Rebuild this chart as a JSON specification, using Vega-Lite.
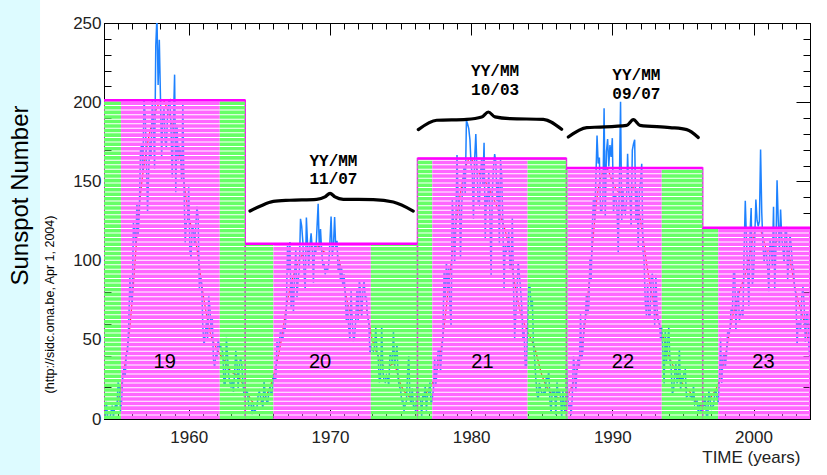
{
"$schema": "https://vega.github.io/schema/vega-lite/v6.json",
"width": 706, "height": 396,
"autosize": "none",
"padding": {"left": 104, "top": 23, "right": 17, "bottom": 56},
"background": "white",
"config": {
  "view": {"stroke": "black", "strokeWidth": 1},
  "axis": {"domainColor": "black", "domainWidth": 1, "tickColor": "black", "tickWidth": 1, "grid": false,
           "labelFont": "Liberation Sans", "labelFontSize": 17, "labelColor": "#222",
           "titleFont": "Liberation Sans", "titleFontWeight": "normal", "titleColor": "black"}
},
"datasets": {
"ssn": [
{"t":1954,"s":0.2},{"t":1954.083,"s":0.5},{"t":1954.167,"s":10.9},{"t":1954.25,"s":1.8},{"t":1954.333,"s":0.8},{"t":1954.417,"s":0.2},{"t":1954.5,"s":4.8},{"t":1954.583,"s":8.4},{"t":1954.667,"s":1.5},{"t":1954.75,"s":7.0},{"t":1954.833,"s":9.2},{"t":1954.917,"s":7.6},
{"t":1955,"s":23.1},{"t":1955.083,"s":20.8},{"t":1955.167,"s":4.9},{"t":1955.25,"s":11.3},{"t":1955.333,"s":28.9},{"t":1955.417,"s":31.7},{"t":1955.5,"s":26.7},{"t":1955.583,"s":40.7},{"t":1955.667,"s":42.7},{"t":1955.75,"s":58.5},{"t":1955.833,"s":89.2},{"t":1955.917,"s":76.9},
{"t":1956,"s":73.6},{"t":1956.083,"s":124.0},{"t":1956.167,"s":118.4},{"t":1956.25,"s":110.7},{"t":1956.333,"s":136.6},{"t":1956.417,"s":116.6},{"t":1956.5,"s":129.1},{"t":1956.583,"s":169.6},{"t":1956.667,"s":173.2},{"t":1956.75,"s":155.3},{"t":1956.833,"s":201.3},{"t":1956.917,"s":192.1},
{"t":1957,"s":165.0},{"t":1957.083,"s":130.2},{"t":1957.167,"s":157.4},{"t":1957.25,"s":175.2},{"t":1957.333,"s":164.6},{"t":1957.417,"s":200.7},{"t":1957.5,"s":187.2},{"t":1957.583,"s":158.0},{"t":1957.667,"s":235.8},{"t":1957.75,"s":253.8},{"t":1957.833,"s":210.9},{"t":1957.917,"s":239.4},
{"t":1958,"s":202.5},{"t":1958.083,"s":164.9},{"t":1958.167,"s":190.7},{"t":1958.25,"s":196.0},{"t":1958.333,"s":175.3},{"t":1958.417,"s":171.5},{"t":1958.5,"s":191.4},{"t":1958.583,"s":200.2},{"t":1958.667,"s":201.2},{"t":1958.75,"s":181.5},{"t":1958.833,"s":152.3},{"t":1958.917,"s":187.6},
{"t":1959,"s":217.4},{"t":1959.083,"s":143.1},{"t":1959.167,"s":185.7},{"t":1959.25,"s":163.3},{"t":1959.333,"s":172.0},{"t":1959.417,"s":168.7},{"t":1959.5,"s":149.6},{"t":1959.583,"s":199.6},{"t":1959.667,"s":145.2},{"t":1959.75,"s":111.4},{"t":1959.833,"s":124.0},{"t":1959.917,"s":125.0},
{"t":1960,"s":146.3},{"t":1960.083,"s":106.0},{"t":1960.167,"s":102.2},{"t":1960.25,"s":122.0},{"t":1960.333,"s":119.6},{"t":1960.417,"s":110.2},{"t":1960.5,"s":121.7},{"t":1960.583,"s":134.1},{"t":1960.667,"s":127.2},{"t":1960.75,"s":82.8},{"t":1960.833,"s":89.6},{"t":1960.917,"s":85.6},
{"t":1961,"s":57.9},{"t":1961.083,"s":46.1},{"t":1961.167,"s":53.0},{"t":1961.25,"s":61.4},{"t":1961.333,"s":51.0},{"t":1961.417,"s":77.4},{"t":1961.5,"s":70.2},{"t":1961.583,"s":55.8},{"t":1961.667,"s":63.6},{"t":1961.75,"s":37.7},{"t":1961.833,"s":32.6},{"t":1961.917,"s":39.9},
{"t":1962,"s":38.7},{"t":1962.083,"s":50.3},{"t":1962.167,"s":45.6},{"t":1962.25,"s":46.4},{"t":1962.333,"s":43.7},{"t":1962.417,"s":42.0},{"t":1962.5,"s":21.8},{"t":1962.583,"s":21.8},{"t":1962.667,"s":51.3},{"t":1962.75,"s":39.5},{"t":1962.833,"s":26.9},{"t":1962.917,"s":23.2},
{"t":1963,"s":19.8},{"t":1963.083,"s":24.4},{"t":1963.167,"s":17.1},{"t":1963.25,"s":29.3},{"t":1963.333,"s":43.0},{"t":1963.417,"s":35.9},{"t":1963.5,"s":19.6},{"t":1963.583,"s":33.2},{"t":1963.667,"s":38.8},{"t":1963.75,"s":35.3},{"t":1963.833,"s":23.4},{"t":1963.917,"s":14.9},
{"t":1964,"s":15.3},{"t":1964.083,"s":17.7},{"t":1964.167,"s":16.5},{"t":1964.25,"s":8.6},{"t":1964.333,"s":9.5},{"t":1964.417,"s":9.1},{"t":1964.5,"s":3.1},{"t":1964.583,"s":9.3},{"t":1964.667,"s":4.7},{"t":1964.75,"s":6.1},{"t":1964.833,"s":7.4},{"t":1964.917,"s":15.1},
{"t":1965,"s":17.5},{"t":1965.083,"s":14.2},{"t":1965.167,"s":11.7},{"t":1965.25,"s":6.8},{"t":1965.333,"s":24.1},{"t":1965.417,"s":15.9},{"t":1965.5,"s":11.9},{"t":1965.583,"s":8.9},{"t":1965.667,"s":16.8},{"t":1965.75,"s":20.1},{"t":1965.833,"s":15.8},{"t":1965.917,"s":17.0},
{"t":1966,"s":28.2},{"t":1966.083,"s":24.4},{"t":1966.167,"s":25.3},{"t":1966.25,"s":48.7},{"t":1966.333,"s":45.3},{"t":1966.417,"s":47.7},{"t":1966.5,"s":56.7},{"t":1966.583,"s":51.2},{"t":1966.667,"s":50.2},{"t":1966.75,"s":57.2},{"t":1966.833,"s":57.2},{"t":1966.917,"s":70.4},
{"t":1967,"s":110.9},{"t":1967.083,"s":93.6},{"t":1967.167,"s":111.8},{"t":1967.25,"s":69.5},{"t":1967.333,"s":86.5},{"t":1967.417,"s":67.3},{"t":1967.5,"s":91.5},{"t":1967.583,"s":107.2},{"t":1967.667,"s":76.8},{"t":1967.75,"s":88.2},{"t":1967.833,"s":94.3},{"t":1967.917,"s":126.4},
{"t":1968,"s":121.8},{"t":1968.083,"s":111.9},{"t":1968.167,"s":92.2},{"t":1968.25,"s":81.2},{"t":1968.333,"s":127.2},{"t":1968.417,"s":110.3},{"t":1968.5,"s":96.1},{"t":1968.583,"s":109.3},{"t":1968.667,"s":117.2},{"t":1968.75,"s":107.7},{"t":1968.833,"s":86.0},{"t":1968.917,"s":109.8},
{"t":1969,"s":104.4},{"t":1969.083,"s":120.5},{"t":1969.167,"s":135.8},{"t":1969.25,"s":106.8},{"t":1969.333,"s":120.0},{"t":1969.417,"s":106.0},{"t":1969.5,"s":96.8},{"t":1969.583,"s":98.0},{"t":1969.667,"s":91.3},{"t":1969.75,"s":95.7},{"t":1969.833,"s":93.5},{"t":1969.917,"s":97.9},
{"t":1970,"s":111.5},{"t":1970.083,"s":127.8},{"t":1970.167,"s":102.9},{"t":1970.25,"s":109.5},{"t":1970.333,"s":127.5},{"t":1970.417,"s":106.8},{"t":1970.5,"s":112.5},{"t":1970.583,"s":93.0},{"t":1970.667,"s":99.5},{"t":1970.75,"s":86.6},{"t":1970.833,"s":95.2},{"t":1970.917,"s":83.5},
{"t":1971,"s":91.3},{"t":1971.083,"s":79.0},{"t":1971.167,"s":60.7},{"t":1971.25,"s":71.8},{"t":1971.333,"s":57.5},{"t":1971.417,"s":49.8},{"t":1971.5,"s":81.0},{"t":1971.583,"s":61.4},{"t":1971.667,"s":50.2},{"t":1971.75,"s":51.7},{"t":1971.833,"s":63.2},{"t":1971.917,"s":82.2},
{"t":1972,"s":61.5},{"t":1972.083,"s":88.4},{"t":1972.167,"s":80.1},{"t":1972.25,"s":63.2},{"t":1972.333,"s":80.5},{"t":1972.417,"s":88.0},{"t":1972.5,"s":76.5},{"t":1972.583,"s":76.8},{"t":1972.667,"s":64.0},{"t":1972.75,"s":61.3},{"t":1972.833,"s":41.6},{"t":1972.917,"s":45.3},
{"t":1973,"s":43.4},{"t":1973.083,"s":42.9},{"t":1973.167,"s":46.0},{"t":1973.25,"s":57.7},{"t":1973.333,"s":42.4},{"t":1973.417,"s":39.5},{"t":1973.5,"s":23.1},{"t":1973.583,"s":25.6},{"t":1973.667,"s":59.3},{"t":1973.75,"s":30.7},{"t":1973.833,"s":23.9},{"t":1973.917,"s":23.3},
{"t":1974,"s":27.6},{"t":1974.083,"s":26.0},{"t":1974.167,"s":21.3},{"t":1974.25,"s":40.3},{"t":1974.333,"s":39.5},{"t":1974.417,"s":36.0},{"t":1974.5,"s":55.8},{"t":1974.583,"s":33.6},{"t":1974.667,"s":40.2},{"t":1974.75,"s":47.1},{"t":1974.833,"s":25.0},{"t":1974.917,"s":20.5},
{"t":1975,"s":18.9},{"t":1975.083,"s":11.5},{"t":1975.167,"s":11.5},{"t":1975.25,"s":5.1},{"t":1975.333,"s":9.0},{"t":1975.417,"s":11.4},{"t":1975.5,"s":28.2},{"t":1975.583,"s":39.7},{"t":1975.667,"s":13.9},{"t":1975.75,"s":9.1},{"t":1975.833,"s":19.4},{"t":1975.917,"s":7.8},
{"t":1976,"s":8.1},{"t":1976.083,"s":4.3},{"t":1976.167,"s":21.9},{"t":1976.25,"s":18.8},{"t":1976.333,"s":12.4},{"t":1976.417,"s":12.2},{"t":1976.5,"s":1.9},{"t":1976.583,"s":16.4},{"t":1976.667,"s":13.5},{"t":1976.75,"s":20.6},{"t":1976.833,"s":5.2},{"t":1976.917,"s":15.3},
{"t":1977,"s":16.4},{"t":1977.083,"s":23.1},{"t":1977.167,"s":8.7},{"t":1977.25,"s":12.9},{"t":1977.333,"s":18.6},{"t":1977.417,"s":38.5},{"t":1977.5,"s":21.4},{"t":1977.583,"s":30.1},{"t":1977.667,"s":44.0},{"t":1977.75,"s":43.8},{"t":1977.833,"s":29.1},{"t":1977.917,"s":43.2},
{"t":1978,"s":51.9},{"t":1978.083,"s":93.6},{"t":1978.167,"s":76.5},{"t":1978.25,"s":99.7},{"t":1978.333,"s":82.7},{"t":1978.417,"s":95.1},{"t":1978.5,"s":70.4},{"t":1978.583,"s":58.1},{"t":1978.667,"s":138.2},{"t":1978.75,"s":125.1},{"t":1978.833,"s":97.9},{"t":1978.917,"s":122.7},
{"t":1979,"s":166.6},{"t":1979.083,"s":137.5},{"t":1979.167,"s":138.0},{"t":1979.25,"s":101.5},{"t":1979.333,"s":134.4},{"t":1979.417,"s":149.5},{"t":1979.5,"s":159.4},{"t":1979.583,"s":142.2},{"t":1979.667,"s":188.4},{"t":1979.75,"s":186.2},{"t":1979.833,"s":183.3},{"t":1979.917,"s":176.3},
{"t":1980,"s":159.6},{"t":1980.083,"s":155.0},{"t":1980.167,"s":126.2},{"t":1980.25,"s":164.1},{"t":1980.333,"s":179.9},{"t":1980.417,"s":157.3},{"t":1980.5,"s":136.3},{"t":1980.583,"s":135.4},{"t":1980.667,"s":155.0},{"t":1980.75,"s":164.7},{"t":1980.833,"s":147.9},{"t":1980.917,"s":174.4},
{"t":1981,"s":114.0},{"t":1981.083,"s":141.3},{"t":1981.167,"s":135.5},{"t":1981.25,"s":156.4},{"t":1981.333,"s":127.5},{"t":1981.417,"s":90.0},{"t":1981.5,"s":143.8},{"t":1981.583,"s":158.7},{"t":1981.667,"s":167.3},{"t":1981.75,"s":162.4},{"t":1981.833,"s":137.5},{"t":1981.917,"s":150.1},
{"t":1982,"s":111.2},{"t":1982.083,"s":163.6},{"t":1982.167,"s":153.8},{"t":1982.25,"s":122.0},{"t":1982.333,"s":82.2},{"t":1982.417,"s":110.4},{"t":1982.5,"s":106.1},{"t":1982.583,"s":107.6},{"t":1982.667,"s":118.8},{"t":1982.75,"s":94.7},{"t":1982.833,"s":98.1},{"t":1982.917,"s":127.0},
{"t":1983,"s":84.3},{"t":1983.083,"s":51.0},{"t":1983.167,"s":66.5},{"t":1983.25,"s":80.7},{"t":1983.333,"s":99.2},{"t":1983.417,"s":91.1},{"t":1983.5,"s":82.2},{"t":1983.583,"s":71.8},{"t":1983.667,"s":50.3},{"t":1983.75,"s":55.8},{"t":1983.833,"s":33.3},{"t":1983.917,"s":33.4},
{"t":1984,"s":57.0},{"t":1984.083,"s":85.4},{"t":1984.167,"s":83.5},{"t":1984.25,"s":69.7},{"t":1984.333,"s":76.4},{"t":1984.417,"s":46.1},{"t":1984.5,"s":37.4},{"t":1984.583,"s":25.5},{"t":1984.667,"s":15.7},{"t":1984.75,"s":12.0},{"t":1984.833,"s":22.8},{"t":1984.917,"s":18.7},
{"t":1985,"s":16.5},{"t":1985.083,"s":15.9},{"t":1985.167,"s":17.2},{"t":1985.25,"s":16.2},{"t":1985.333,"s":27.5},{"t":1985.417,"s":24.2},{"t":1985.5,"s":30.7},{"t":1985.583,"s":11.1},{"t":1985.667,"s":3.9},{"t":1985.75,"s":18.6},{"t":1985.833,"s":16.2},{"t":1985.917,"s":17.3},
{"t":1986,"s":2.5},{"t":1986.083,"s":23.2},{"t":1986.167,"s":15.1},{"t":1986.25,"s":18.5},{"t":1986.333,"s":13.7},{"t":1986.417,"s":1.1},{"t":1986.5,"s":18.1},{"t":1986.583,"s":7.4},{"t":1986.667,"s":3.8},{"t":1986.75,"s":35.4},{"t":1986.833,"s":15.2},{"t":1986.917,"s":6.8},
{"t":1987,"s":10.4},{"t":1987.083,"s":2.4},{"t":1987.167,"s":14.7},{"t":1987.25,"s":39.6},{"t":1987.333,"s":33.0},{"t":1987.417,"s":17.4},{"t":1987.5,"s":33.9},{"t":1987.583,"s":38.7},{"t":1987.667,"s":33.5},{"t":1987.75,"s":66.1},{"t":1987.833,"s":37.4},{"t":1987.917,"s":43.5},
{"t":1988,"s":61.0},{"t":1988.083,"s":62.7},{"t":1988.167,"s":78.9},{"t":1988.25,"s":66.1},{"t":1988.333,"s":71.0},{"t":1988.417,"s":101.9},{"t":1988.5,"s":86.6},{"t":1988.583,"s":121.5},{"t":1988.667,"s":139.9},{"t":1988.75,"s":125.8},{"t":1988.833,"s":151.2},{"t":1988.917,"s":179.0},
{"t":1989,"s":161.3},{"t":1989.083,"s":165.1},{"t":1989.167,"s":131.4},{"t":1989.25,"s":130.6},{"t":1989.333,"s":138.5},{"t":1989.417,"s":196.2},{"t":1989.5,"s":126.9},{"t":1989.583,"s":168.9},{"t":1989.667,"s":176.7},{"t":1989.75,"s":159.4},{"t":1989.833,"s":173.0},{"t":1989.917,"s":165.5},
{"t":1990,"s":177.3},{"t":1990.083,"s":130.5},{"t":1990.167,"s":140.3},{"t":1990.25,"s":140.3},{"t":1990.333,"s":132.2},{"t":1990.417,"s":105.4},{"t":1990.5,"s":149.4},{"t":1990.583,"s":200.3},{"t":1990.667,"s":125.2},{"t":1990.75,"s":145.5},{"t":1990.833,"s":131.4},{"t":1990.917,"s":129.7},
{"t":1991,"s":136.9},{"t":1991.083,"s":167.5},{"t":1991.167,"s":141.9},{"t":1991.25,"s":140.0},{"t":1991.333,"s":121.3},{"t":1991.417,"s":169.7},{"t":1991.5,"s":173.7},{"t":1991.583,"s":176.3},{"t":1991.667,"s":125.3},{"t":1991.75,"s":144.1},{"t":1991.833,"s":108.2},{"t":1991.917,"s":144.4},
{"t":1992,"s":150.0},{"t":1992.083,"s":161.1},{"t":1992.167,"s":106.7},{"t":1992.25,"s":99.8},{"t":1992.333,"s":73.8},{"t":1992.417,"s":65.2},{"t":1992.5,"s":85.7},{"t":1992.583,"s":64.5},{"t":1992.667,"s":63.9},{"t":1992.75,"s":88.7},{"t":1992.833,"s":91.8},{"t":1992.917,"s":82.6},
{"t":1993,"s":59.3},{"t":1993.083,"s":91.0},{"t":1993.167,"s":69.8},{"t":1993.25,"s":62.2},{"t":1993.333,"s":61.3},{"t":1993.417,"s":49.8},{"t":1993.5,"s":57.9},{"t":1993.583,"s":42.2},{"t":1993.667,"s":22.4},{"t":1993.75,"s":56.4},{"t":1993.833,"s":35.6},{"t":1993.917,"s":48.9},
{"t":1994,"s":57.8},{"t":1994.083,"s":35.5},{"t":1994.167,"s":31.7},{"t":1994.25,"s":16.1},{"t":1994.333,"s":17.8},{"t":1994.417,"s":28.0},{"t":1994.5,"s":35.1},{"t":1994.583,"s":22.5},{"t":1994.667,"s":25.7},{"t":1994.75,"s":44.0},{"t":1994.833,"s":18.0},{"t":1994.917,"s":26.2},
{"t":1995,"s":24.2},{"t":1995.083,"s":29.9},{"t":1995.167,"s":31.1},{"t":1995.25,"s":14.0},{"t":1995.333,"s":14.5},{"t":1995.417,"s":15.6},{"t":1995.5,"s":14.5},{"t":1995.583,"s":14.3},{"t":1995.667,"s":11.8},{"t":1995.75,"s":21.1},{"t":1995.833,"s":9.0},{"t":1995.917,"s":10.0},
{"t":1996,"s":11.5},{"t":1996.083,"s":4.4},{"t":1996.167,"s":9.2},{"t":1996.25,"s":4.8},{"t":1996.333,"s":5.5},{"t":1996.417,"s":11.8},{"t":1996.5,"s":8.2},{"t":1996.583,"s":14.4},{"t":1996.667,"s":1.6},{"t":1996.75,"s":0.9},{"t":1996.833,"s":17.9},{"t":1996.917,"s":13.3},
{"t":1997,"s":5.7},{"t":1997.083,"s":7.6},{"t":1997.167,"s":8.7},{"t":1997.25,"s":15.5},{"t":1997.333,"s":18.5},{"t":1997.417,"s":12.7},{"t":1997.5,"s":10.4},{"t":1997.583,"s":24.4},{"t":1997.667,"s":51.3},{"t":1997.75,"s":22.8},{"t":1997.833,"s":39.0},{"t":1997.917,"s":41.2},
{"t":1998,"s":31.9},{"t":1998.083,"s":40.3},{"t":1998.167,"s":54.8},{"t":1998.25,"s":53.4},{"t":1998.333,"s":56.3},{"t":1998.417,"s":70.7},{"t":1998.5,"s":66.6},{"t":1998.583,"s":92.2},{"t":1998.667,"s":92.9},{"t":1998.75,"s":55.5},{"t":1998.833,"s":74.0},{"t":1998.917,"s":81.9},
{"t":1999,"s":62.0},{"t":1999.083,"s":66.3},{"t":1999.167,"s":68.8},{"t":1999.25,"s":63.7},{"t":1999.333,"s":106.4},{"t":1999.417,"s":137.7},{"t":1999.5,"s":113.5},{"t":1999.583,"s":93.7},{"t":1999.667,"s":71.5},{"t":1999.75,"s":116.7},{"t":1999.833,"s":133.2},{"t":1999.917,"s":84.6},
{"t":2000,"s":90.1},{"t":2000.083,"s":112.9},{"t":2000.167,"s":138.5},{"t":2000.25,"s":125.5},{"t":2000.333,"s":121.6},{"t":2000.417,"s":124.9},{"t":2000.5,"s":170.1},{"t":2000.583,"s":130.5},{"t":2000.667,"s":109.7},{"t":2000.75,"s":99.4},{"t":2000.833,"s":106.8},{"t":2000.917,"s":104.4},
{"t":2001,"s":95.6},{"t":2001.083,"s":80.6},{"t":2001.167,"s":113.5},{"t":2001.25,"s":107.7},{"t":2001.333,"s":96.6},{"t":2001.417,"s":134.0},{"t":2001.5,"s":81.8},{"t":2001.583,"s":106.4},{"t":2001.667,"s":150.7},{"t":2001.75,"s":125.5},{"t":2001.833,"s":106.5},{"t":2001.917,"s":132.2},
{"t":2002,"s":114.1},{"t":2002.083,"s":107.4},{"t":2002.167,"s":98.4},{"t":2002.25,"s":120.7},{"t":2002.333,"s":120.8},{"t":2002.417,"s":88.3},{"t":2002.5,"s":99.6},{"t":2002.583,"s":116.4},{"t":2002.667,"s":109.6},{"t":2002.75,"s":97.5},{"t":2002.833,"s":95.0},{"t":2002.917,"s":81.6},
{"t":2003,"s":79.5},{"t":2003.083,"s":46.2},{"t":2003.167,"s":61.8},{"t":2003.25,"s":60.0},{"t":2003.333,"s":55.2},{"t":2003.417,"s":77.4},{"t":2003.5,"s":83.3},{"t":2003.583,"s":72.7},{"t":2003.667,"s":48.7},{"t":2003.75,"s":65.5},{"t":2003.833,"s":67.3},{"t":2003.917,"s":46.5},
{"t":2004,"s":37.3},{"t":2004.083,"s":45.8}
],
"smooth": [
{"t":1954.0,"s":5},{"t":1954.33,"s":3.4},{"t":1954.75,"s":6},{"t":1955.0,"s":12},{"t":1955.5,"s":36},{"t":1955.83,"s":58},{"t":1956.0,"s":75},{"t":1956.5,"s":135},{"t":1957.0,"s":170},{"t":1957.5,"s":190},{"t":1958.17,"s":201.3},{"t":1958.5,"s":195},{"t":1959.0,"s":180},{"t":1959.5,"s":160},{"t":1960.0,"s":128},{"t":1960.5,"s":112},{"t":1961.0,"s":80},{"t":1961.5,"s":55},{"t":1962.0,"s":44},{"t":1962.5,"s":37},{"t":1963.0,"s":30},{"t":1963.5,"s":27},{"t":1964.0,"s":19},{"t":1964.5,"s":11},{"t":1964.8,"s":9.6},{"t":1965.5,"s":15},{"t":1966.0,"s":27},{"t":1966.5,"s":47},{"t":1967.0,"s":75},{"t":1967.5,"s":93},{"t":1968.0,"s":103},{"t":1968.5,"s":106},{"t":1968.9,"s":110.6},{"t":1969.5,"s":106},{"t":1970.0,"s":104},{"t":1970.5,"s":104},{"t":1971.0,"s":84},{"t":1971.5,"s":67},{"t":1972.0,"s":68},{"t":1972.5,"s":70},{"t":1973.0,"s":50},{"t":1973.5,"s":38},{"t":1974.0,"s":32},{"t":1974.5,"s":35},{"t":1975.0,"s":22},{"t":1975.5,"s":15},{"t":1976.2,"s":12.2},{"t":1976.5,"s":13},{"t":1977.0,"s":19},{"t":1977.5,"s":28},{"t":1978.0,"s":52},{"t":1978.5,"s":92},{"t":1979.0,"s":128},{"t":1979.5,"s":155},{"t":1979.92,"s":164.5},{"t":1980.5,"s":156},{"t":1981.0,"s":150},{"t":1981.5,"s":141},{"t":1982.0,"s":130},{"t":1982.5,"s":116},{"t":1983.0,"s":90},{"t":1983.5,"s":67},{"t":1984.0,"s":55},{"t":1984.5,"s":45},{"t":1985.0,"s":28},{"t":1985.5,"s":18},{"t":1986.0,"s":14},{"t":1986.7,"s":12.3},{"t":1987.0,"s":18},{"t":1987.5,"s":30},{"t":1988.0,"s":55},{"t":1988.5,"s":100},{"t":1989.0,"s":145},{"t":1989.58,"s":158.5},{"t":1990.0,"s":150},{"t":1990.5,"s":143},{"t":1991.0,"s":145},{"t":1991.5,"s":146},{"t":1992.0,"s":125},{"t":1992.5,"s":94},{"t":1993.0,"s":70},{"t":1993.5,"s":55},{"t":1994.0,"s":40},{"t":1994.5,"s":30},{"t":1995.0,"s":22},{"t":1995.5,"s":17},{"t":1996.0,"s":10},{"t":1996.4,"s":8.0},{"t":1997.0,"s":14},{"t":1997.5,"s":22},{"t":1998.0,"s":40},{"t":1998.5,"s":64},{"t":1999.0,"s":80},{"t":1999.5,"s":94},{"t":2000.25,"s":120.8},{"t":2000.5,"s":119},{"t":2001.0,"s":106},{"t":2001.5,"s":111},{"t":2002.0,"s":114},{"t":2002.5,"s":104},{"t":2003.0,"s":80},{"t":2003.5,"s":64},{"t":2004.0,"s":45}
],
"box": [
{"c":"19","x0":1954.0,"x1":1964.0,"h":201.3},
{"c":"20","x0":1964.0,"x1":1976.2,"h":110.6},
{"c":"21","x0":1976.2,"x1":1986.75,"h":164.5},
{"c":"22","x0":1986.75,"x1":1996.4,"h":158.5},
{"c":"23","x0":1996.4,"x1":2004.0,"h":120.8}
],
"seg": [
{"x0":1954.0,"x1":1955.2,"h":201.3,"k":"min"},{"x0":1955.2,"x1":1962.2,"h":201.3,"k":"max"},{"x0":1962.2,"x1":1964.0,"h":201.3,"k":"min"},
{"x0":1964.0,"x1":1966.0,"h":110.6,"k":"min"},{"x0":1966.0,"x1":1972.9,"h":110.6,"k":"max"},{"x0":1972.9,"x1":1976.2,"h":110.6,"k":"min"},
{"x0":1976.2,"x1":1977.25,"h":164.5,"k":"min"},{"x0":1977.25,"x1":1984.0,"h":164.5,"k":"max"},{"x0":1984.0,"x1":1986.75,"h":164.5,"k":"min"},
{"x0":1986.75,"x1":1986.85,"h":158.5,"k":"min"},{"x0":1986.85,"x1":1993.5,"h":158.5,"k":"max"},{"x0":1993.5,"x1":1996.4,"h":158.5,"k":"min"},
{"x0":1996.4,"x1":1997.5,"h":120.8,"k":"min"},{"x0":1997.5,"x1":2004.0,"h":120.8,"k":"max"}
],
"cyc": [
{"c":"19","t":1958.3,"v":36},{"c":"20","t":1969.3,"v":36},{"c":"21","t":1980.8,"v":36},{"c":"22","t":1990.75,"v":36},{"c":"23","t":2000.7,"v":36}
],
"yy": [
{"s":"YY/MM","t":1970.25,"v":163},{"s":"11/07","t":1970.25,"v":151.8},
{"s":"YY/MM","t":1981.7,"v":219.5},{"s":"10/03","t":1981.7,"v":207.9},
{"s":"YY/MM","t":1991.7,"v":217.4},{"s":"09/07","t":1991.7,"v":205.4}
],
"brace": [
{"b":1,"t":1964.34,"v":131.3},{"b":1,"t":1965.05,"v":134.3},{"b":1,"t":1965.99,"v":137.4},{"b":1,"t":1967.17,"v":138.1},{"b":1,"t":1969.06,"v":138.7},{"b":1,"t":1969.65,"v":140.2},{"b":1,"t":1970.01,"v":142.5},{"b":1,"t":1970.36,"v":140.2},{"b":1,"t":1970.95,"v":138.7},{"b":1,"t":1973.07,"v":138.5},{"b":1,"t":1974.49,"v":137.0},{"b":1,"t":1975.9,"v":131.3},
{"b":2,"t":1976.26,"v":182.7},{"b":2,"t":1977.56,"v":188.6},{"b":2,"t":1979.69,"v":189.2},{"b":2,"t":1980.75,"v":190.7},{"b":2,"t":1981.22,"v":193.8},{"b":2,"t":1981.69,"v":190.7},{"b":2,"t":1982.75,"v":189.6},{"b":2,"t":1985.11,"v":189.2},{"b":2,"t":1986.41,"v":182.9},
{"b":3,"t":1986.88,"v":178.0},{"b":3,"t":1988.19,"v":184.0},{"b":3,"t":1989.13,"v":184.3},{"b":3,"t":1991.02,"v":185.4},{"b":3,"t":1991.49,"v":189.0},{"b":3,"t":1991.96,"v":185.4},{"b":3,"t":1994.08,"v":184.0},{"b":3,"t":1995.27,"v":182.7},{"b":3,"t":1996.09,"v":177.7}
],
"one": [{"a": 1}]
},
"layer": [
{
  "data": {"name": "one"},
  "transform": [
    {"calculate": "1945", "as": "xa"}, {"calculate": "1949.47", "as": "xb"},
    {"calculate": "-40", "as": "ya"}, {"calculate": "275", "as": "yb"}
  ],
  "mark": {"type": "rect", "color": "#ddfbff", "clip": false},
  "encoding": {
    "x": {"field": "xa", "type": "quantitative", "axis": null,
          "scale": {"domain": [1954, 2004], "nice": false, "zero": false}},
    "x2": {"field": "xb"},
    "y": {"field": "ya", "type": "quantitative",
          "scale": {"domain": [0, 250], "nice": false, "zero": false},
          "axis": {"orient": "left", "domain": false, "ticks": false, "labels": false, "zindex": 2,
                   "title": "Sunspot Number", "titleFontSize": 24, "titleAngle": 270,
                   "titleX": -84, "titleY": 172, "titleAlign": "center", "titleBaseline": "middle"}},
    "y2": {"field": "yb"}
  }
},
{
  "data": {"name": "smooth"},
  "mark": {"type": "line", "color": "#ff1a1a", "strokeWidth": 1.2, "interpolate": "monotone", "clip": true},
  "encoding": {
    "x": {"field": "t", "type": "quantitative", "axis": null},
    "y": {"field": "s", "type": "quantitative", "axis": null}
  }
},
{
  "data": {"name": "ssn"},
  "mark": {"type": "line", "color": "#1e82ff", "strokeWidth": 1.5, "clip": true},
  "encoding": {
    "x": {"field": "t", "type": "quantitative",
          "scale": {"domain": [1954, 2004], "nice": false, "zero": false},
          "axis": {"orient": "bottom",
                   "values": [1955,1956,1957,1958,1959,1960,1961,1962,1963,1964,1965,1966,1967,1968,1969,1970,1971,1972,1973,1974,1975,1976,1977,1978,1979,1980,1981,1982,1983,1984,1985,1986,1987,1988,1989,1990,1991,1992,1993,1994,1995,1996,1997,1998,1999,2000,2001,2002,2003],
                   "format": "d",
                   "labelExpr": "datum.value % 10 === 0 ? datum.label : ''",
                   "tickSize": -6,
                   "labelPadding": 16, "labelOverlap": false, "labelFlush": false,
                   "title": "TIME (years)", "titleFontSize": 17, "titleColor": "#222",
                   "titleX": 696, "titleY": 38, "titleAlign": "right", "titleBaseline": "middle", "titleAngle": 0}},
    "y": {"field": "s", "type": "quantitative",
          "scale": {"domain": [0, 250], "nice": false, "zero": false},
          "axis": {"orient": "left",
                   "values": [0,10,20,30,40,50,60,70,80,90,100,110,120,130,140,150,160,170,180,190,200,210,220,230,240,250],
                   "labelExpr": "datum.value % 50 === 0 ? datum.label : ''",
                   "tickSize": -7,
                   "labelPadding": 10, "labelOverlap": false, "labelFlush": false,
                   "title": null}}
  }
},
{
  "data": {"name": "box"},
  "transform": [{"calculate": "0", "as": "base"}],
  "mark": {"type": "rect", "fillOpacity": 0, "stroke": "#ff00ff", "strokeWidth": 1.5, "clip": true},
  "encoding": {
    "x": {"field": "x0", "type": "quantitative",
          "axis": {"orient": "top", "labels": false, "title": null,
                   "values": [1955,1956,1957,1958,1959,1960,1961,1962,1963,1964,1965,1966,1967,1968,1969,1970,1971,1972,1973,1974,1975,1976,1977,1978,1979,1980,1981,1982,1983,1984,1985,1986,1987,1988,1989,1990,1991,1992,1993,1994,1995,1996,1997,1998,1999,2000,2001,2002,2003],
                   "tickSize": -6}},
    "x2": {"field": "x1"},
    "y": {"field": "h", "type": "quantitative",
          "axis": {"orient": "right", "labels": false,
                   "values": [10,20,30,40,50,60,70,80,90,100,110,120,130,140,150,160,170,180,190,200,210,220,230,240],
                   "tickSize": -7,
                   "title": "(http://sidc.oma.be, Apr  1, 2004)", "titleFontSize": 12.5, "titleAngle": 270,
                   "titleX": -761, "titleY": 281, "titleAlign": "center", "titleBaseline": "middle"}},
    "y2": {"field": "base"}
  }
},
{
  "data": {"name": "seg"},
  "transform": [
    {"calculate": "(datum.x0 + datum.x1) / 2", "as": "mid"},
    {"calculate": "datum.x1 - datum.x0", "as": "dur"},
    {"calculate": "0", "as": "base"}
  ],
  "mark": {"type": "rule", "strokeDash": [3.55, 1], "strokeCap": "butt", "clip": true},
  "encoding": {
    "x": {"field": "mid", "type": "quantitative",
          "axis": {"orient": "bottom", "labels": false, "title": null, "values": [1960,1970,1980,1990,2000], "tickSize": -12}},
    "y": {"field": "base", "type": "quantitative",
          "axis": {"orient": "left", "labels": false, "title": null, "values": [50,100,150,200], "tickSize": -14}},
    "y2": {"field": "h"},
    "strokeWidth": {"field": "dur", "type": "quantitative", "scale": {"domain": [0, 50], "range": [0, 706], "zero": true}, "legend": null},
    "color": {"field": "k", "type": "nominal", "scale": {"domain": ["min", "max"], "range": ["#66ff66", "#ff66ff"]}, "legend": null}
  }
},
{
  "data": {"name": "box"},
  "mark": {"type": "rule", "color": "#ff00ff", "strokeWidth": 2.5, "clip": true},
  "encoding": {
    "x": {"field": "x0", "type": "quantitative",
          "axis": {"orient": "top", "labels": false, "title": null, "values": [1960,1970,1980,1990,2000], "tickSize": -12}},
    "x2": {"field": "x1"},
    "y": {"field": "h", "type": "quantitative",
          "axis": {"orient": "right", "labels": false, "title": null, "values": [50,100,150,200], "tickSize": -14}}
  }
},
{
  "data": {"name": "cyc"},
  "mark": {"type": "text", "font": "Liberation Sans", "fontSize": 20, "color": "black", "align": "center", "baseline": "middle"},
  "encoding": {
    "x": {"field": "t", "type": "quantitative", "axis": null},
    "y": {"field": "v", "type": "quantitative", "axis": null},
    "text": {"field": "c", "type": "nominal"}
  }
},
{
  "data": {"name": "yy"},
  "mark": {"type": "text", "font": "Liberation Mono", "fontWeight": "bold", "fontSize": 16, "color": "black", "align": "center", "baseline": "middle"},
  "encoding": {
    "x": {"field": "t", "type": "quantitative", "axis": null},
    "y": {"field": "v", "type": "quantitative", "axis": null},
    "text": {"field": "s", "type": "nominal"}
  }
},
{
  "data": {"name": "brace"},
  "mark": {"type": "line", "color": "black", "strokeWidth": 3.2, "interpolate": "monotone", "strokeCap": "round", "strokeJoin": "round"},
  "encoding": {
    "x": {"field": "t", "type": "quantitative", "axis": null},
    "y": {"field": "v", "type": "quantitative", "axis": null},
    "detail": {"field": "b", "type": "nominal"}
  }
}
],
"resolve": {"axis": {"x": "independent", "y": "independent"}}
}
